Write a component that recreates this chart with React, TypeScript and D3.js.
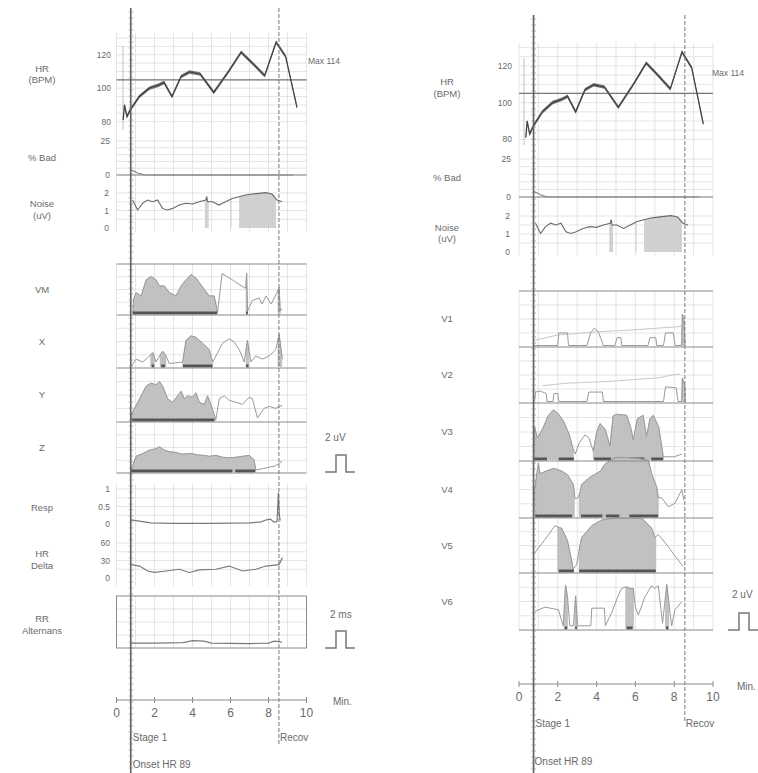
import React from "react";
import * as d3 from "d3";

type P = [number, number];

// ---------- data ----------
const xTicks = [0, 2, 4, 6, 8, 10];
const onsetT = 0.75;
const recovT = 8.55;
const hrRef = 105;
const hrTicks = [80, 100, 120];
const badTicks = [0, 25];
const noiseTicks = [0, 1, 2];
const respTicks = [0, 0.5, 1];
const deltaTicks = [0, 30, 60];
const maxLabel = "Max 114";
const onsetLabel = "Onset HR 89";
const stageLabel = "Stage 1";
const recovLabel = "Recov";
const leftLeads = ["VM", "X", "Y", "Z"];
const rightLeads = ["V1", "V2", "V3", "V4", "V5", "V6"];

const hrSeries: P[] = [
  [0.35, 81], [0.42, 90], [0.55, 83], [0.72, 87], [1.2, 95], [1.73, 100], [2.25, 102],
  [2.5, 103.5], [2.92, 95], [3.4, 107], [3.85, 109.7], [4.4, 108.5], [5.12, 97.5],
  [5.9, 110], [6.56, 121.5], [7.15, 115], [7.8, 107.5], [8.4, 127.5], [8.9, 119], [9.5, 88.5],
];
const badSeries: P[] = [[0.75, 3.5], [0.9, 3], [1.1, 1.5], [1.4, 0.3], [1.6, 0], [9.3, 0]];
const noiseSeries: P[] = [
  [0.85, 1.6], [1.11, 1.03], [1.37, 1.41], [1.63, 1.6], [1.9, 1.5], [2.16, 1.6], [2.42, 1.12],
  [2.68, 1.03], [2.95, 1.12], [3.3, 1.31], [3.65, 1.41], [4.0, 1.37], [4.35, 1.5], [4.7, 1.6],
  [4.75, 1.8], [4.8, 1.5], [5.05, 1.5], [5.39, 1.31], [5.74, 1.5], [6.09, 1.69], [6.44, 1.79],
  [6.79, 1.89], [7.14, 1.94], [7.49, 1.98], [7.84, 2.02], [8.18, 1.94], [8.45, 1.6], [8.71, 1.5],
];
const noiseBands: P[] = [[4.65, 4.85], [6.0, 6.06], [6.45, 8.4]];

const respSeries: P[] = [
  [0.75, 0.12], [1.2, 0.08], [1.8, 0.03], [3, 0.02], [5, 0.02], [7, 0.03], [7.6, 0.06],
  [7.9, 0.12], [8.1, 0.14], [8.3, 0.05], [8.45, 0.08], [8.52, 0.9], [8.57, 0.25], [8.62, 0.1],
];
const deltaSeries: P[] = [
  [0.77, 23], [1.21, 20.5], [1.64, 12], [2.0, 9.5], [2.61, 12], [3.31, 15], [3.83, 9.5],
  [4.36, 14], [5.23, 15], [5.93, 20.5], [6.63, 12], [7.33, 15], [7.86, 20.5], [8.56, 23], [8.73, 35],
];
const rrSeries: P[] = [
  [0.75, 0.06], [2, 0.06], [3.5, 0.07], [4, 0.11], [4.6, 0.1], [5, 0.06], [7, 0.05],
  [8, 0.06], [8.3, 0.1], [8.7, 0.08],
];

// left leads (fraction of box height)
const vmTrace: P[] = [
  [0.86, 0], [0.9, 0.3], [1.03, 0.44], [1.3, 0.37], [1.56, 0.71], [1.82, 0.78], [2.08, 0.71],
  [2.26, 0.58], [2.52, 0.58], [2.78, 0.44], [3.13, 0.37], [3.4, 0.58], [3.66, 0.71], [3.92, 0.82],
  [4.18, 0.75], [4.36, 0.65], [4.62, 0.51], [4.88, 0.37], [5.14, 0.37], [5.32, 0.03], [5.56, 0.84],
  [6.09, 0.71], [6.46, 0.61], [6.8, 0.53], [6.85, 0.85], [6.9, 0.05], [7.14, 0.27], [7.51, 0.33],
  [7.66, 0.2], [7.87, 0.37], [8.14, 0.2], [8.4, 0.4], [8.56, 0.55], [8.62, 0.05], [8.71, 0.1],
];
const vmFill: P[] = [[0.86, 5.32], [6.82, 6.9], [8.5, 8.62]];
const vmBars: P[] = [[0.86, 5.3], [6.82, 6.92]];

const xTrace: P[] = [
  [0.77, 0], [1.03, 0.15], [1.38, 0.09], [1.64, 0.18], [1.91, 0.28], [2.08, 0.09], [2.26, 0.21],
  [2.43, 0.31], [2.61, 0.21], [2.78, 0.06], [3.48, 0.09], [3.66, 0.53], [3.92, 0.62], [4.18, 0.59],
  [4.53, 0.47], [4.88, 0.34], [5.06, 0.09], [5.41, 0.34], [5.58, 0.47], [5.93, 0.56], [6.19, 0.5],
  [6.46, 0.34], [6.72, 0.09], [6.89, 0.53], [7.07, 0.09], [7.33, 0.21], [7.68, 0.15], [8.03, 0.21],
  [8.38, 0.34], [8.56, 0.65], [8.73, 0.15],
];
const xFill: P[] = [[1.8, 2.0], [2.3, 2.6], [3.48, 5.06], [6.82, 6.95], [8.5, 8.7]];
const xBars: P[] = [[1.85, 1.98], [2.35, 2.55], [3.5, 5.05], [6.82, 6.95]];

const yTrace: P[] = [
  [0.77, 0.11], [1.03, 0.3], [1.3, 0.49], [1.56, 0.68], [1.82, 0.74], [2.08, 0.71], [2.26, 0.77],
  [2.43, 0.68], [2.69, 0.43], [2.96, 0.36], [3.22, 0.49], [3.4, 0.58], [3.57, 0.43], [3.74, 0.49],
  [4.0, 0.46], [4.18, 0.55], [4.36, 0.36], [4.62, 0.32], [4.79, 0.49], [4.97, 0.32], [5.14, 0.11],
  [5.23, 0.02], [5.41, 0.43], [5.67, 0.49], [5.93, 0.4], [6.28, 0.36], [6.63, 0.32], [6.98, 0.46],
  [7.15, 0.43], [7.42, 0.05], [7.77, 0.24], [8.03, 0.28], [8.38, 0.24], [8.73, 0.3],
];
const yFill: P[] = [[0.77, 5.23]];
const yBars: P[] = [[0.77, 5.15]];

const zTrace: P[] = [
  [0.77, 0.03], [1.03, 0.32], [1.38, 0.38], [1.73, 0.45], [2.08, 0.48], [2.26, 0.52], [2.52, 0.45],
  [2.78, 0.42], [3.13, 0.4], [3.4, 0.37], [3.66, 0.37], [3.92, 0.38], [4.27, 0.35], [4.62, 0.34],
  [4.88, 0.32], [5.23, 0.34], [5.58, 0.3], [5.93, 0.29], [6.28, 0.3], [6.63, 0.32], [6.98, 0.34],
  [7.24, 0.25], [7.33, 0.03], [7.68, 0.06], [8.03, 0.09], [8.38, 0.12], [8.73, 0.22],
];
const zFill: P[] = [[0.77, 7.33]];
const zBars: P[] = [[0.77, 6.1], [6.25, 7.3]];

// right leads
const v1Trace: P[] = [
  [0.8, 0], [2.0, 0], [2.05, 0.24], [2.5, 0.24], [2.55, 0], [3.5, 0], [3.7, 0.25], [3.9, 0.33],
  [4.1, 0.25], [4.35, 0], [4.95, 0], [5.05, 0.15], [5.25, 0.15], [5.3, 0], [6.65, 0], [6.75, 0.15],
  [7.05, 0.15], [7.1, 0], [7.45, 0], [7.55, 0.24], [7.95, 0.24], [8.05, 0], [8.38, 0], [8.42, 0.6],
  [8.5, 0.5], [8.56, 0],
];
const v1Faint: P[] = [[0.8, 0.1], [2, 0.2], [4, 0.26], [6, 0.3], [7.5, 0.34], [8.3, 0.36], [8.5, 0.42]];
const v1Fill: P[] = [[8.4, 8.55]];
const v1Bars: P[] = [];

const v2Trace: P[] = [
  [0.8, 0], [0.85, 0.18], [1.1, 0.2], [1.4, 0.15], [1.45, 0], [1.75, 0], [1.8, 0.15], [2.0, 0.15],
  [2.05, 0], [3.5, 0], [3.6, 0.18], [4.3, 0.18], [4.35, 0], [7.45, 0], [7.55, 0.28], [8.1, 0.26],
  [8.2, 0], [8.38, 0], [8.42, 0.45], [8.55, 0.3], [8.58, 0],
];
const v2Faint: P[] = [[1.2, 0.3], [2.5, 0.35], [4.5, 0.38], [6, 0.42], [7.2, 0.45], [7.8, 0.5], [8.3, 0.52]];
const v2Fill: P[] = [[8.4, 8.55]];
const v2Bars: P[] = [];

const v3Trace: P[] = [
  [0.75, 0], [0.8, 0.6], [0.95, 0.4], [1.2, 0.55], [1.5, 0.8], [1.77, 0.91], [2.0, 0.85], [2.3, 0.7],
  [2.6, 0.45], [2.78, 0.2], [2.9, 0.1], [3.1, 0.3], [3.4, 0.45], [3.6, 0.4], [3.83, 0.15], [4.0, 0.5],
  [4.18, 0.66], [4.45, 0.55], [4.69, 0.25], [4.85, 0.8], [5.03, 0.83], [5.3, 0.82], [5.55, 0.81],
  [5.75, 0.6], [5.89, 0.36], [6.1, 0.75], [6.4, 0.81], [6.57, 0.42], [6.75, 0.75], [6.92, 0.81],
  [7.2, 0.6], [7.44, 0.05], [7.7, 0.05], [8.0, 0.05], [8.4, 0.1],
];
const v3Fill: P[] = [[0.78, 2.8], [3.83, 7.44]];
const v3Bars: P[] = [[0.78, 1.44], [2.05, 2.83], [3.87, 4.74], [4.9, 5.26], [5.68, 6.46], [6.82, 7.43]];

const v4Trace: P[] = [
  [0.75, 0], [0.8, 0.5], [1.0, 1.0], [1.08, 0.8], [1.4, 0.85], [1.8, 0.9], [2.2, 0.85], [2.5, 0.78],
  [2.8, 0.6], [2.89, 0.33], [3.05, 0.35], [3.14, 0.45], [3.23, 0.6], [3.6, 0.72], [3.92, 0.79],
  [4.2, 0.85], [4.43, 0.98], [4.95, 1.1], [5.5, 1.1], [6.2, 1.08], [6.67, 1.05], [6.84, 0.8],
  [7.1, 0.55], [7.18, 0.35], [7.35, 0.35], [7.7, 0.18], [8.04, 0.25], [8.39, 0.5], [8.5, 0.3],
];
const v4Fill: P[] = [[0.8, 2.85], [3.1, 7.18]];
const v4Bars: P[] = [[0.83, 2.74], [3.2, 4.3], [4.48, 5.17], [5.69, 7.17]];

const v5Trace: P[] = [
  [0.8, 0.36], [1.3, 0.6], [1.86, 0.89], [2.03, 0.86], [2.2, 0.84], [2.5, 0.6], [2.8, 0.05],
  [2.97, 0.13], [3.14, 0.5], [3.23, 0.66], [3.75, 0.89], [4.26, 1.0], [4.95, 1.04], [5.7, 1.04],
  [6.32, 1.04], [6.84, 0.84], [7.01, 0.66], [7.18, 0.72], [7.7, 0.48], [8.04, 0.3], [8.39, 0.13], [8.5, 0.1],
];
const v5Fill: P[] = [[2.0, 2.8], [3.1, 7.05]];
const v5Bars: P[] = [[2.05, 2.83], [3.1, 7.05]];

const v6Trace: P[] = [
  [0.82, 0.32], [1.34, 0.4], [2.03, 0.35], [2.28, 0.05], [2.4, 0.81], [2.5, 0.6], [2.62, 0.05],
  [2.8, 0.05], [2.92, 0.61], [3.02, 0.05], [3.7, 0.05], [3.75, 0.38], [4.4, 0.38], [4.45, 0.05],
  [4.78, 0.3], [5.1, 0.6], [5.29, 0.75], [5.55, 0.78], [5.72, 0.75], [5.89, 0.75], [6.0, 0.4],
  [6.15, 0.25], [6.5, 0.6], [6.84, 0.8], [7.0, 0.75], [7.18, 0.8], [7.4, 0.1], [7.52, 0.5],
  [7.62, 0.82], [7.75, 0.4], [7.87, 0.05], [8.04, 0.35], [8.39, 0.5],
];
const v6Fill: P[] = [[2.33, 2.5], [2.88, 3.0], [5.5, 5.9], [7.55, 7.72]];
const v6Bars: P[] = [[2.35, 2.48], [2.9, 2.98], [5.55, 5.85], [7.58, 7.7]];

// ---------- helpers ----------
const FONT = "'Liberation Sans', Arial, sans-serif";
const TXT = "#6a6a6a";
const GRID = "#dadada";
const BORDER = "#8a8a8a";

function interp(pts: P[], t: number): number {
  const i = d3.bisector((d: P) => d[0]).left(pts, t);
  if (i <= 0) return pts[0][1];
  if (i >= pts.length) return pts[pts.length - 1][1];
  const a = pts[i - 1], b = pts[i];
  return a[1] + ((b[1] - a[1]) * (t - a[0])) / (b[0] - a[0]);
}
function clipPts(pts: P[], a: number, b: number): P[] {
  return [[a, interp(pts, a)], ...pts.filter((p) => p[0] > a && p[0] < b), [b, interp(pts, b)]];
}

type X = d3.ScaleLinear<number, number>;

function VGrid({ x, top, bottom }: { x: X; top: number; bottom: number }) {
  return (
    <g>
      {d3.range(0, 11).map((m) => (
        <line key={m} x1={x(m)} x2={x(m)} y1={top} y2={bottom} stroke={GRID} strokeWidth={0.7} />
      ))}
    </g>
  );
}
function HGrid({ x, ys }: { x: X; ys: number[] }) {
  return (
    <g>
      {ys.map((y, i) => (
        <line key={i} x1={x(0)} x2={x(10)} y1={y} y2={y} stroke={GRID} strokeWidth={0.7} />
      ))}
    </g>
  );
}

function Label({ x, y, lines, size = 9.5 }: { x: number; y: number; lines: string[]; size?: number }) {
  return (
    <text x={x} y={y} fontFamily={FONT} fontSize={size} fill={TXT} textAnchor="middle">
      {lines.map((l, i) => (
        <tspan key={i} x={x} dy={i === 0 ? 0 : size + 2}>
          {l}
        </tspan>
      ))}
    </text>
  );
}

function Ticks({ y, values, x }: { y: d3.ScaleLinear<number, number>; values: number[]; x: number }) {
  return (
    <g>
      {values.map((v) => (
        <text key={v} x={x} y={y(v) + 3} fontFamily={FONT} fontSize={8.5} fill={TXT} textAnchor="end">
          {String(v)}
        </text>
      ))}
    </g>
  );
}

function Lead({ x, top, bottom, trace, faint, fills, bars }: {
  x: X; top: number; bottom: number; trace: P[]; faint?: P[]; fills: P[]; bars: P[];
}) {
  const y = d3.scaleLinear().domain([0, 1]).range([bottom - 1.5, top + 2]);
  const line = d3.line<P>().x((d) => x(d[0])).y((d) => y(d[1]));
  const area = d3.area<P>().x((d) => x(d[0])).y0(y(0)).y1((d) => y(d[1]));
  const h = bottom - top;
  return (
    <g>
      <VGrid x={x} top={top} bottom={bottom} />
      <HGrid x={x} ys={[1, 2, 3].map((k) => top + (h * k) / 4)} />
      {fills.map((s, i) => (
        <path key={i} d={area(clipPts(trace, s[0], s[1])) || ""} fill="url(#hatch)" stroke="#aaaaaa" strokeWidth={0.5} />
      ))}
      {faint && <path d={line(faint) || ""} fill="none" stroke="#c8c8c8" strokeWidth={1} />}
      <path d={line(trace) || ""} fill="none" stroke="#9a9a9a" strokeWidth={1} />
      {bars.map((s, i) => (
        <line key={i} x1={x(s[0])} x2={x(s[1])} y1={bottom - 2} y2={bottom - 2} stroke="#555" strokeWidth={3} />
      ))}
    </g>
  );
}

function Pulse({ x, y, label, labelX, labelY }: { x: number; y: number; label: string; labelX: number; labelY: number }) {
  const d = `M${x},${y} h11 v-17 h10 v17 h9`;
  return (
    <g>
      <text x={labelX} y={labelY} fontFamily={FONT} fontSize={10} fill={TXT}>{label}</text>
      <path d={d} fill="none" stroke="#777" strokeWidth={1.5} />
    </g>
  );
}

function OnsetLine({ x, y1, y2 }: { x: number; y1: number; y2: number }) {
  return (
    <g>
      <line x1={x} x2={x} y1={y1} y2={y2} stroke="#5e5e5e" strokeWidth={1.6} />
      {d3.range(y1 + 4, y2, 6).map((yy) => (
        <line key={yy} x1={x - 2} x2={x + 2.5} y1={yy} y2={yy} stroke="#8a8a8a" strokeWidth={0.7} />
      ))}
    </g>
  );
}

function XAxis({ x, y, minX, minY }: { x: X; y: number; minX: number; minY: number }) {
  return (
    <g>
      <line x1={x(0)} x2={x(10)} y1={y} y2={y} stroke="#8a8a8a" strokeWidth={1.2} />
      {xTicks.map((t) => (
        <g key={t}>
          <line x1={x(t)} x2={x(t)} y1={y - 3} y2={y + 3} stroke="#8a8a8a" strokeWidth={1} />
          <text x={x(t)} y={y + 17} fontFamily={FONT} fontSize={12} fill={TXT} textAnchor="middle">{t}</text>
        </g>
      ))}
      <text x={minX} y={minY} fontFamily={FONT} fontSize={10} fill={TXT}>Min.</text>
    </g>
  );
}

function HRBlock({ x, hrTop, hrBottom, hrDom, badY0, badY25, noiseY0, noiseY2, noiseBottom, labelX, tickX, axisX, maxX, maxY }: any) {
  const yHR = d3.scaleLinear().domain(hrDom).range([hrBottom, hrTop]);
  const yBad = d3.scaleLinear().domain([0, 25]).range([badY0, badY25]);
  const yNoise = d3.scaleLinear().domain([0, 2]).range([noiseY0, noiseY2]);
  const hrLine = d3.line<P>().x((d) => x(d[0])).y((d) => yHR(d[1]));
  const hrArea = d3.area<P>().x((d) => x(d[0])).y0((d) => yHR(d[1]) + 1.8).y1((d) => yHR(d[1]) - 1.8);
  const badLine = d3.line<P>().x((d) => x(d[0])).y((d) => yBad(d[1]));
  const noiseLine = d3.line<P>().x((d) => x(d[0])).y((d) => yNoise(d[1]));
  const noiseArea = d3.area<P>().x((d) => x(d[0])).y0(yNoise(0)).y1((d) => yNoise(d[1]));
  return (
    <g>
      <VGrid x={x} top={hrTop} bottom={noiseBottom} />
      <HGrid x={x} ys={d3.range(80, hrDom[1], 5).map((v) => yHR(v))} />
      <HGrid x={x} ys={[5, 10, 15, 20, 25].map((v) => yBad(v))} />
      <HGrid x={x} ys={[0.5, 1, 1.5, 2].map((v) => yNoise(v))} />
      {noiseBands.map((b, i) => (
        <path key={i} d={noiseArea(clipPts(noiseSeries, b[0], b[1])) || ""} fill="url(#hatch2)" />
      ))}
      <line x1={axisX} x2={axisX} y1={yHR(hrDom[1] - 8)} y2={hrBottom} stroke="#c2c2c2" strokeWidth={1} />
      <line x1={x(0)} x2={x(10)} y1={yHR(hrRef)} y2={yHR(hrRef)} stroke="#777" strokeWidth={1.2} />
      <path d={hrArea(hrSeries) || ""} fill="#7a7a7a" />
      <path d={hrLine(hrSeries) || ""} fill="none" stroke="#444" strokeWidth={1.3} />
      <line x1={x(0)} x2={x(10)} y1={yBad(0)} y2={yBad(0)} stroke="#777" strokeWidth={1.2} />
      <path d={badLine(badSeries) || ""} fill="none" stroke="#888" strokeWidth={1.2} />
      <path d={noiseLine(noiseSeries) || ""} fill="none" stroke="#6a6a6a" strokeWidth={1.1} />
      <Ticks y={yHR} values={hrTicks} x={tickX} />
      <Ticks y={yBad} values={badTicks} x={tickX - 1} />
      <Ticks y={yNoise} values={noiseTicks} x={tickX - 2} />
      <Label x={labelX} y={yHR(105) - 8} lines={["HR", "(BPM)"]} />
      <Label x={labelX} y={yBad(12.5) + 3} lines={["% Bad"]} />
      <Label x={labelX} y={yNoise(1.35) + 3} lines={["Noise", "(uV)"]} />
      <text x={maxX} y={maxY} fontFamily={FONT} fontSize={8.5} fill={TXT}>{maxLabel}</text>
    </g>
  );
}

export default function App() {
  const xL = d3.scaleLinear().domain([0, 10]).range([116.5, 306.5]);
  const xR = d3.scaleLinear().domain([0, 10]).range([519, 713]);

  const leftBoxes = [264, 315, 368, 422, 473];
  const leftData = [
    { t: vmTrace, f: vmFill, b: vmBars },
    { t: xTrace, f: xFill, b: xBars },
    { t: yTrace, f: yFill, b: yBars },
    { t: zTrace, f: zFill, b: zBars },
  ];
  const rightBoxes = [291, 347, 403, 461, 518, 573, 630];
  const rightData: { t: P[]; fa?: P[]; f: P[]; b: P[] }[] = [
    { t: v1Trace, fa: v1Faint, f: v1Fill, b: v1Bars },
    { t: v2Trace, fa: v2Faint, f: v2Fill, b: v2Bars },
    { t: v3Trace, f: v3Fill, b: v3Bars },
    { t: v4Trace, f: v4Fill, b: v4Bars },
    { t: v5Trace, f: v5Fill, b: v5Bars },
    { t: v6Trace, f: v6Fill, b: v6Bars },
  ];

  const yResp = d3.scaleLinear().domain([0, 1]).range([524, 489]);
  const yDelta = d3.scaleLinear().domain([0, 60]).range([578, 543]);
  const yRR = d3.scaleLinear().domain([0, 1]).range([646, 598]);
  const respLine = d3.line<P>().x((d) => xL(d[0])).y((d) => yResp(d[1]));
  const deltaLine = d3.line<P>().x((d) => xL(d[0])).y((d) => yDelta(d[1]));
  const rrLine = d3.line<P>().x((d) => xL(d[0])).y((d) => yRR(d[1]));

  return (
    <div style={{ position: "absolute", left: 0, top: 0 }}>
      <svg width={758} height={773} style={{ display: "block", background: "#fff" }}>
        <defs>
          <pattern id="hatch" width={2} height={4} patternUnits="userSpaceOnUse">
            <rect width={2} height={4} fill="#c4c4c4" />
            <line x1={0.5} x2={0.5} y1={0} y2={4} stroke="#b8b8b8" strokeWidth={0.5} />
          </pattern>
          <pattern id="hatch2" width={2} height={4} patternUnits="userSpaceOnUse">
            <rect width={2} height={4} fill="#d4d4d4" />
            <line x1={0.5} x2={0.5} y1={0} y2={4} stroke="#c6c6c6" strokeWidth={0.5} />
          </pattern>
        </defs>

        {/* ===== LEFT PANEL ===== */}
        <HRBlock x={xL} hrTop={33} hrBottom={130} hrDom={[75, 133]} badY0={175} badY25={141}
          noiseY0={228} noiseY2={193} noiseBottom={232} labelX={42} tickX={111} axisX={123}
          maxX={308} maxY={64} />
        {leftData.map((d, i) => (
          <Lead key={i} x={xL} top={leftBoxes[i]} bottom={leftBoxes[i + 1]} trace={d.t} fills={d.f} bars={d.b} />
        ))}
        {leftBoxes.map((y) => (
          <line key={y} x1={xL(0)} x2={xL(10)} y1={y} y2={y} stroke={BORDER} strokeWidth={1.2} />
        ))}
        {leftLeads.map((n, i) => (
          <Label key={n} x={42} y={(leftBoxes[i] + leftBoxes[i + 1]) / 2 + 3} lines={[n]} />
        ))}

        <VGrid x={xL} top={484} bottom={586} />
        <HGrid x={xL} ys={[0.25, 0.5, 0.75, 1].map((v) => yResp(v))} />
        <HGrid x={xL} ys={[15, 30, 45, 60].map((v) => yDelta(v))} />
        <path d={respLine(respSeries) || ""} fill="none" stroke="#7a7a7a" strokeWidth={1.2} />
        <path d={deltaLine(deltaSeries) || ""} fill="none" stroke="#7a7a7a" strokeWidth={1.2} />
        <Ticks y={yResp} values={respTicks} x={110} />
        <Ticks y={yDelta} values={deltaTicks} x={110} />
        <Label x={42} y={511} lines={["Resp"]} />
        <Label x={42} y={557} lines={["HR", "Delta"]} />

        <VGrid x={xL} top={596} bottom={648} />
        <HGrid x={xL} ys={[609, 622, 635]} />
        <rect x={xL(0)} y={596} width={xL(10) - xL(0)} height={52} fill="none" stroke={BORDER} strokeWidth={1} />
        <path d={rrLine(rrSeries) || ""} fill="none" stroke="#7a7a7a" strokeWidth={1.2} />
        <Label x={42} y={622} lines={["RR", "Alternans"]} />

        <Pulse x={325} y={472} label="2 uV" labelX={325} labelY={441} />
        <Pulse x={325} y={648} label="2 ms" labelX={330} labelY={618} />

        <XAxis x={xL} y={700} minX={333} minY={705} />
        <line x1={xL(recovT)} x2={xL(recovT)} y1={8} y2={745} stroke="#777" strokeWidth={1} strokeDasharray="4,2" />
        <OnsetLine x={xL(onsetT)} y1={8} y2={773} />
        <text x={xL(onsetT) + 2} y={741} fontFamily={FONT} fontSize={10} fill={TXT}>{stageLabel}</text>
        <text x={xL(recovT) + 1} y={741} fontFamily={FONT} fontSize={10} fill={TXT}>{recovLabel}</text>
        <text x={xL(onsetT) + 2} y={768} fontFamily={FONT} fontSize={10} fill={TXT}>{onsetLabel}</text>

        {/* ===== RIGHT PANEL ===== */}
        <HRBlock x={xR} hrTop={43} hrBottom={145} hrDom={[77, 132.4]} badY0={197} badY25={159}
          noiseY0={252} noiseY2={216} noiseBottom={256} labelX={447} tickX={512} axisX={524}
          maxX={712} maxY={76} />
        {rightData.map((d, i) => (
          <Lead key={i} x={xR} top={rightBoxes[i]} bottom={rightBoxes[i + 1]} trace={d.t} faint={d.fa} fills={d.f} bars={d.b} />
        ))}
        {rightBoxes.map((y) => (
          <line key={y} x1={xR(0)} x2={xR(10)} y1={y} y2={y} stroke={BORDER} strokeWidth={1.2} />
        ))}
        {rightLeads.map((n, i) => (
          <Label key={n} x={447} y={(rightBoxes[i] + rightBoxes[i + 1]) / 2 + 3} lines={[n]} />
        ))}
        <Pulse x={728} y={630} label="2 uV" labelX={732} labelY={598} />

        <XAxis x={xR} y={684} minX={737} minY={690} />
        <line x1={xR(recovT)} x2={xR(recovT)} y1={15} y2={722} stroke="#777" strokeWidth={1} strokeDasharray="4,2" />
        <OnsetLine x={xR(onsetT)} y1={15} y2={773} />
        <text x={xR(onsetT) + 2} y={727} fontFamily={FONT} fontSize={10} fill={TXT}>{stageLabel}</text>
        <text x={xR(recovT) + 1} y={727} fontFamily={FONT} fontSize={10} fill={TXT}>{recovLabel}</text>
        <text x={xR(onsetT) + 1} y={765} fontFamily={FONT} fontSize={10} fill={TXT}>{onsetLabel}</text>
      </svg>
    </div>
  );
}
